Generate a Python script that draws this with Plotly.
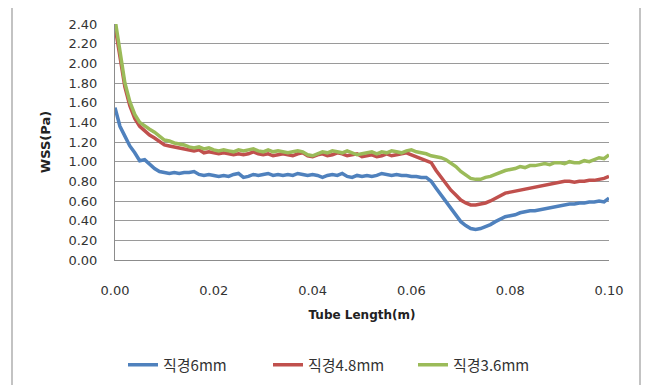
import plotly.graph_objects as go

x_m = [i / 1000 for i in range(101)]

wss_6mm = [1.55, 1.36, 1.26, 1.16, 1.09, 1.01, 1.02, 0.97, 0.93, 0.90,
           0.89, 0.88, 0.89, 0.88, 0.89, 0.89, 0.90, 0.87, 0.86, 0.87,
           0.86, 0.85, 0.86, 0.85, 0.87, 0.88, 0.84, 0.85, 0.87, 0.86,
           0.87, 0.88, 0.86, 0.87, 0.86, 0.87, 0.86, 0.88, 0.87, 0.86,
           0.87, 0.86, 0.84, 0.86, 0.87, 0.86, 0.88, 0.85, 0.84, 0.86,
           0.85, 0.86, 0.85, 0.86, 0.88, 0.87, 0.86, 0.87, 0.86, 0.86,
           0.85, 0.85, 0.84, 0.84, 0.80, 0.73, 0.66, 0.59, 0.52, 0.45,
           0.39, 0.35, 0.32, 0.31, 0.32, 0.34, 0.36, 0.39, 0.42, 0.44,
           0.45, 0.46, 0.48, 0.49, 0.50, 0.50, 0.51, 0.52, 0.53, 0.54,
           0.55, 0.56, 0.57, 0.57, 0.58, 0.58, 0.59, 0.59, 0.60, 0.59,
           0.63]

wss_48mm = [2.38, 2.05, 1.76, 1.57, 1.44, 1.36, 1.31, 1.27, 1.24, 1.20,
            1.17, 1.16, 1.15, 1.14, 1.13, 1.12, 1.11, 1.12, 1.09, 1.10,
            1.09, 1.08, 1.09, 1.08, 1.07, 1.08, 1.07, 1.08, 1.10, 1.08,
            1.07, 1.08, 1.06, 1.07, 1.08, 1.07, 1.06, 1.08, 1.09, 1.06,
            1.05, 1.07, 1.08, 1.06, 1.07, 1.09, 1.08, 1.06, 1.07, 1.08,
            1.05, 1.06, 1.07, 1.05, 1.06, 1.08, 1.06, 1.07, 1.08, 1.09,
            1.07, 1.05, 1.03, 1.01, 0.99, 0.91, 0.84, 0.77, 0.71, 0.66,
            0.61, 0.58, 0.56, 0.56, 0.57, 0.58, 0.60, 0.63, 0.66, 0.68,
            0.69, 0.70, 0.71, 0.72, 0.73, 0.74, 0.75, 0.76, 0.77, 0.78,
            0.79, 0.80, 0.80, 0.79, 0.80, 0.80, 0.81, 0.81, 0.82, 0.83,
            0.85]

wss_36mm = [2.45, 2.12, 1.80, 1.61, 1.48, 1.40, 1.36, 1.33, 1.30, 1.26,
            1.22, 1.21, 1.19, 1.18, 1.17, 1.15, 1.14, 1.15, 1.13, 1.14,
            1.12, 1.11, 1.12, 1.11, 1.10, 1.12, 1.11, 1.12, 1.13, 1.11,
            1.10, 1.12, 1.10, 1.11, 1.10, 1.09, 1.10, 1.11, 1.10, 1.07,
            1.06, 1.08, 1.10, 1.09, 1.11, 1.10, 1.09, 1.11, 1.09, 1.07,
            1.08, 1.09, 1.10, 1.08, 1.10, 1.09, 1.11, 1.10, 1.09, 1.11,
            1.12, 1.10, 1.09, 1.08, 1.06, 1.05, 1.04, 1.02, 0.99, 0.95,
            0.90, 0.86, 0.83, 0.82, 0.82, 0.84, 0.85, 0.87, 0.89, 0.91,
            0.92, 0.93, 0.95, 0.94, 0.96, 0.96, 0.97, 0.98, 0.97, 0.99,
            0.99, 0.98, 1.00, 0.99, 0.99, 1.01, 1.00, 1.02, 1.04, 1.03,
            1.07]

series_names = ["직경6mm", "직경4.8mm", "직경3.6mm"]
series_values = [wss_6mm, wss_48mm, wss_36mm]
colors = ["#4F81BD", "#C0504D", "#9BBB59"]

y_ticks = [0.0, 0.2, 0.4, 0.6, 0.8, 1.0, 1.2, 1.4, 1.6, 1.8, 2.0, 2.2, 2.4]
x_ticks = [0.0, 0.02, 0.04, 0.06, 0.08, 0.10]

fig = go.Figure()
for name, vals, col in zip(series_names, series_values, colors):
    fig.add_trace(go.Scatter(x=x_m, y=vals, mode="lines", name=name,
                             line=dict(color=col, width=3.5)))

font_main = "DejaVu Sans, Noto Sans CJK KR, sans-serif"
fig.update_layout(
    width=643, height=377,
    margin=dict(l=107, r=42, t=16, b=125, autoexpand=False),
    paper_bgcolor="white", plot_bgcolor="white",
    font=dict(family=font_main, size=12, color="#222"),
    showlegend=True,
    legend=dict(orientation="h", x=(123 - 115) / 494, xanchor="left", y=-0.445,
                yanchor="middle", font=dict(family="Noto Sans CJK KR, DejaVu Sans, sans-serif",
                                            size=15, color="#333"),
                entrywidth=100, entrywidthmode="pixels",
                itemwidth=30, tracegroupgap=0, bgcolor="rgba(0,0,0,0)"),
    xaxis=dict(range=[0, 0.1], tickvals=x_ticks,
               ticktext=[f"{v:.2f}" for v in x_ticks],
               showgrid=False, zeroline=False, showline=True,
               linecolor="#8c8c8c", linewidth=1, ticks="",
               ticklabelstandoff=18, automargin=False,
               tickfont=dict(size=13, color="#333"),
               title=dict(text="<b>Tube Length(m)</b>", standoff=14,
                          font=dict(size=12, color="#222"))),
    yaxis=dict(range=[0, 2.4], tickvals=y_ticks,
               ticktext=[f"{v:.2f}" for v in y_ticks],
               showgrid=True, gridcolor="#9a9a9a", gridwidth=1,
               zeroline=False, showline=True, linecolor="#8c8c8c",
               linewidth=1, ticks="", ticklabelstandoff=14, automargin=False,
               tickfont=dict(size=13, color="#333"),
               title=dict(text="<b>WSS(Pa)</b>", standoff=14,
                          font=dict(size=13, color="#222"))),
    shapes=[dict(type="rect", xref="paper", yref="paper",
                 x0=(12 - 115) / 494, x1=(640 - 115) / 494,
                 y0=-0.6, y1=(260 - 7) / 236,
                 line=dict(color="#b0b0b0", width=1.5),
                 fillcolor="rgba(0,0,0,0)", layer="below")],
)

fig.write_html("out.html")
